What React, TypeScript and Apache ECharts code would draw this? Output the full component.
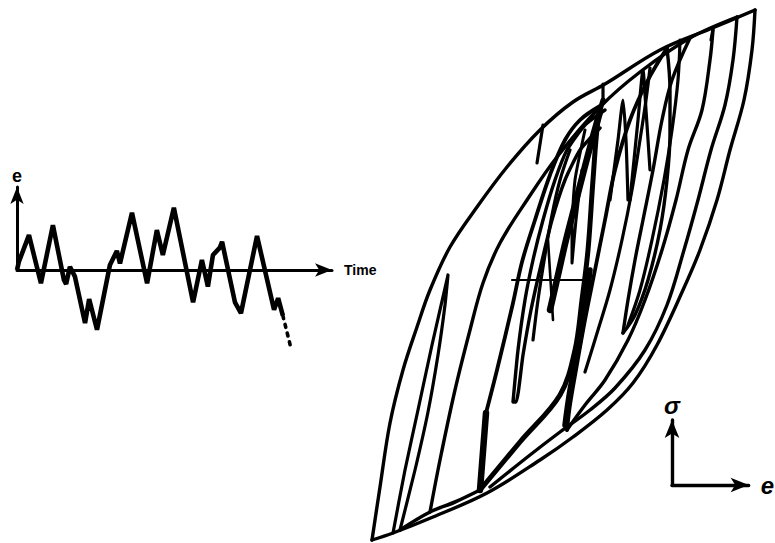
import React, { useEffect, useRef } from "react";
import * as echarts from "echarts";

// Strain history: time and strain readings of the random loading trace
const timeValues = [0, 0.06, 0.38, 0.76, 1.14, 1.49, 1.56, 1.68, 1.84, 2.16, 2.29, 2.54, 2.95, 3.17, 3.27, 3.65, 4.13, 4.44, 4.63, 4.98, 5.59, 5.87, 6.06, 6.22, 6.44, 6.51, 6.92, 7.11, 7.62, 8.16, 8.29, 8.44];
const strainValues = [0, 0.1, 0.42, -0.16, 0.54, -0.12, -0.17, 0.04, -0.08, -0.64, -0.35, -0.72, 0.06, 0.23, 0.08, 0.69, -0.16, 0.48, 0.18, 0.75, -0.39, 0.12, -0.2, 0.18, 0.27, 0.34, -0.39, -0.52, 0.41, -0.48, -0.34, -0.55];
// the trace continues beyond the sketch (dotted)
const continuedTime = [8.44, 8.67];
const continuedStrain = [-0.55, -0.9];

// Stress-strain response: [strain, stress] points of each branch
const envelopeLoading = [[0, 0], [2, 10.6], [4.5, 23.4], [7.75, 34], [11.25, 42.6], [14.5, 50], [19.5, 58.6], [26.25, 66.6], [33.75, 74.6], [42, 82], [50.25, 87.6], [58.25, 91.2], [72, 98], [84.5, 102.2], [95.75, 106]];
const envelopeUnloading = [[95.75, 106], [95, 98], [93, 88], [89.5, 78], [86.25, 68], [82, 58], [77.75, 50], [71.25, 39], [65.25, 31.4], [58.75, 26], [50.25, 20.6], [42, 16], [28.75, 9.4], [15.25, 4.6], [5.25, 1.4], [0, 0]];
const narrowLoopLow = [[5.25, 1.4], [8.25, 14], [11.5, 26], [15, 39], [19, 53], [18.25, 47], [16.5, 37], [14, 25.6], [10.75, 14], [7, 2]];
const innerLoading = [[14.5, 5.6], [17, 16], [20.75, 30], [24.5, 42], [27.75, 51.4], [32, 59.4], [38.75, 68], [46.25, 76.6], [57, 86.6], [67, 93.6], [79.5, 100.4], [91.25, 104.6]];
const stepA = [[42.75, 83], [41.25, 75.4]];
const stepB = [[57.75, 91.2], [57.75, 87.4]];
const stepC = [[85.25, 102.2], [84.75, 100]];
const innerUnloading = [[91.25, 104.6], [90.25, 96], [88.25, 87], [84.75, 78], [81.5, 68], [78, 58], [73.75, 47], [68.25, 38], [60.75, 30.4], [54.5, 26], [47, 21.6], [39.5, 17], [29.5, 10.6]];
const thirdUnloading = [[85.25, 102], [84.5, 96], [82.5, 86], [79, 78], [76, 68], [72.5, 58], [68.25, 48], [64, 40], [58.25, 32], [53.25, 27], [48.75, 22]];
const thirdReloading = [[48.75, 22], [49.5, 27], [51, 34], [53.25, 44], [55.75, 54], [58.25, 64], [60.75, 74], [64.5, 84], [69, 92], [73.75, 98.4]];
const fourthUnloading = [[73.75, 98.4], [74.5, 90], [74.5, 81.4], [73.75, 72], [72, 62], [69, 52], [65.75, 45], [62.75, 41.4]];
const fourthReloading = [[62.75, 41.4], [64, 48], [65.75, 56], [67.75, 64], [70.25, 74], [72.5, 84], [75, 92], [79.5, 100.4]];
const fifthUnloading = [[77, 100], [76.5, 92], [75, 82], [73, 72], [70, 60], [67, 50], [64, 43]];
const sixthUnloading = [[69.5, 94.4], [68.5, 88], [67, 80], [65, 70], [62.5, 60], [59.5, 50], [56.5, 42], [53.25, 33.6]];
const baseRise = [[27, 10], [28.5, 25.4]];
const centralStreak = [[27, 10], [37, 19.6], [47, 29], [50.75, 38], [52.5, 48], [54, 58], [55.25, 72], [56.5, 84], [57.75, 88]];
const centralBand = [[57, 85.6], [55, 80], [53, 74], [50.75, 67], [48.5, 60], [46.5, 53], [44.5, 46]];
const lowerCluster = [[54.5, 54], [53.25, 46], [51.5, 38], [49.5, 30], [48.25, 23]];
const centralRise = [[28.5, 25.4], [31.25, 34], [35.25, 47.4], [37.5, 55.6], [40.75, 64], [44.5, 73], [48.25, 80], [52, 84], [57, 86.8]];
const innerFan = [[49.5, 78], [47, 72], [45, 65], [43.25, 57], [41.5, 48], [40.25, 40]];
const hangingLoop = [[58.25, 86], [53.25, 83], [48.75, 78], [45.75, 72], [42.75, 64], [40.25, 56], [38.25, 48], [36.5, 38], [35.25, 27.6], [36, 27.6], [37.75, 37], [39.75, 46], [42.25, 55], [45, 64], [48.25, 72], [52, 78], [57, 82.4]];
const shortDip = [[44, 60], [45.25, 44]];
const midSpike = [[53.25, 82], [50.75, 72], [50, 62], [50, 55.4], [51, 64], [52.5, 74]];
const zeroStrainLine = [[35, 52], [54.5, 52]];
const baseDouble = [[7, 2], [14.5, 5.6], [20.75, 7.6], [27, 10]];
const upperSpikeA = [[59.5, 68], [61.5, 80], [62.75, 88], [63.5, 80], [64, 68]];
const upperSpikeB = [[64.5, 68], [66.5, 84], [67.75, 94], [68.5, 86], [69.5, 74]];

const FONT = "'Liberation Sans', Arial, sans-serif";

export default function App() {
  const ref = useRef<HTMLDivElement>(null);

  useEffect(() => {
    if (!ref.current) return;
    const chart = echarts.init(ref.current, null, { renderer: "svg" });

    const arrowLine = (width: number, size: number[]) => ({
      show: true,
      symbol: ["none", "arrow"],
      symbolSize: size,
      lineStyle: { color: "#000", width },
    });

    const arrowAxis = (extra: any) => ({
      type: "value",
      axisLine: arrowLine(3, [10, 17]),
      axisTick: { show: false },
      axisLabel: { show: false },
      splitLine: { show: false },
      ...extra,
    });

    const hiddenAxis = (extra: any) => ({
      type: "value",
      show: false,
      splitLine: { show: false },
      ...extra,
    });

    const branches: { data: number[][]; width: number; smooth?: number }[] = [
      { data: envelopeLoading, width: 3.4 },
      { data: envelopeUnloading, width: 3.4 },
      { data: narrowLoopLow, width: 3.2, smooth: 0.2 },
      { data: innerLoading, width: 3.4 },
      { data: stepA, width: 3.2, smooth: 0 },
      { data: stepB, width: 3.2, smooth: 0 },
      { data: stepC, width: 3.2, smooth: 0 },
      { data: innerUnloading, width: 3.4 },
      { data: thirdUnloading, width: 3.4 },
      { data: thirdReloading, width: 3.8 },
      { data: fourthUnloading, width: 3.4 },
      { data: fourthReloading, width: 3.4 },
      { data: fifthUnloading, width: 3.2 },
      { data: sixthUnloading, width: 3.2 },
      { data: baseRise, width: 6.5, smooth: 0 },
      { data: centralStreak, width: 5 },
      { data: centralBand, width: 6.5 },
      { data: lowerCluster, width: 5.5 },
      { data: centralRise, width: 3.8 },
      { data: innerFan, width: 3.2 },
      { data: hangingLoop, width: 3.4, smooth: 0.2 },
      { data: shortDip, width: 2.6, smooth: 0 },
      { data: midSpike, width: 3, smooth: 0.2 },
      { data: zeroStrainLine, width: 2.2, smooth: 0 },
      { data: baseDouble, width: 3.6 },
      { data: upperSpikeA, width: 3.2, smooth: 0.2 },
      { data: upperSpikeB, width: 3.2, smooth: 0.2 },
    ];

    const loopSeries = branches.map((b) => ({
      type: "line",
      xAxisIndex: 1,
      yAxisIndex: 1,
      data: b.data,
      smooth: b.smooth === undefined ? 0.35 : b.smooth,
      showSymbol: false,
      clip: false,
      silent: true,
      lineStyle: { color: "#000", width: b.width, cap: "round", join: "round" },
    }));

    chart.setOption({
      animation: false,
      backgroundColor: "#fff",
      grid: [
        { left: 17, top: 187, width: 315, height: 83 },
        { left: 372, top: 10, width: 384, height: 530 },
        { left: 672, top: 420, width: 80, height: 65 },
      ],
      xAxis: [
        arrowAxis({
          gridIndex: 0,
          min: 0,
          max: 10,
          name: "Time",
          nameLocation: "end",
          nameGap: 12,
          nameTextStyle: { color: "#000", fontFamily: FONT, fontWeight: "bold", fontSize: 14 },
        }),
        hiddenAxis({ gridIndex: 1, min: 0, max: 96 }),
        arrowAxis({
          gridIndex: 2,
          min: 0,
          max: 1,
          axisLine: arrowLine(3.4, [11, 18]),
          name: "e",
          nameLocation: "end",
          nameGap: 12,
          nameTextStyle: { color: "#000", fontFamily: FONT, fontWeight: "bold", fontStyle: "italic", fontSize: 24 },
        }),
      ],
      yAxis: [
        arrowAxis({
          gridIndex: 0,
          min: 0,
          max: 1,
          name: "e",
          nameLocation: "end",
          nameGap: 2,
          nameTextStyle: { color: "#000", fontFamily: FONT, fontWeight: "bold", fontSize: 18 },
        }),
        hiddenAxis({ gridIndex: 1, min: 0, max: 106 }),
        arrowAxis({
          gridIndex: 2,
          min: 0,
          max: 1,
          axisLine: arrowLine(3.4, [11, 18]),
          name: "σ",
          nameLocation: "end",
          nameGap: 3,
          nameTextStyle: { color: "#000", fontFamily: FONT, fontWeight: "bold", fontStyle: "italic", fontSize: 24 },
        }),
      ],
      series: [
        {
          type: "line",
          xAxisIndex: 0,
          yAxisIndex: 0,
          data: timeValues.map((t, i) => [t, strainValues[i]]),
          showSymbol: false,
          clip: false,
          silent: true,
          lineStyle: { color: "#000", width: 4.6 },
        },
        {
          type: "line",
          xAxisIndex: 0,
          yAxisIndex: 0,
          data: continuedTime.map((t, i) => [t, continuedStrain[i]]),
          showSymbol: false,
          clip: false,
          silent: true,
          lineStyle: { color: "#000", width: 3.6, type: [3, 6], cap: "round" },
        },
        ...loopSeries,
      ],
    });

    return () => chart.dispose();
  }, []);

  return (
    <div
      ref={ref}
      style={{ position: "fixed", left: 0, top: 0, width: 775, height: 543, background: "#fff" }}
    />
  );
}
